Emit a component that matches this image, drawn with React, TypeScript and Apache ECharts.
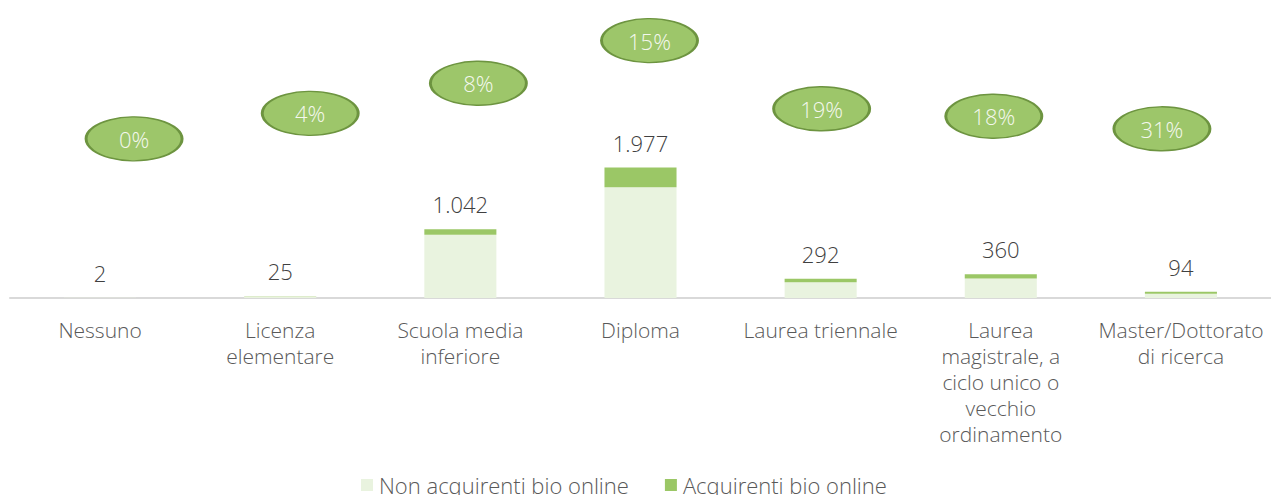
import React, { useEffect, useRef } from "react";
import * as echarts from "echarts";

const categories = [
  "Nessuno",
  "Licenza\nelementare",
  "Scuola media\ninferiore",
  "Diploma",
  "Laurea triennale",
  "Laurea\nmagistrale, a\nciclo unico o\nvecchio\nordinamento",
  "Master/Dottorato\ndi ricerca",
];
const totals = [2, 25, 1042, 1977, 292, 360, 94];
const buyers = [0, 1, 83, 297, 55, 65, 29];
const nonBuyers = [2, 24, 959, 1680, 237, 295, 65];
const buyerPct = [0, 4, 8, 15, 19, 18, 31];

// layout only: where each percentage bubble sits relative to its bar top (px)
const bubbleDx = [34, 30, 18, 9, 1, -7, -19];
const bubbleDy = [-159, -183, -146, -127, -170, -158, -163];

const FONT = "'Open Sans', sans-serif";
const fmt = (v: number) => String(v).replace(/\B(?=(\d{3})+(?!\d))/g, ".");

export default function App() {
  const ref = useRef<HTMLDivElement>(null);
  useEffect(() => {
    if (!ref.current) return;
    const chart = echarts.init(ref.current, undefined, { renderer: "svg" });
    chart.setOption({
      animation: false,
      textStyle: { fontFamily: FONT },
      grid: { left: 10, right: -3, top: 21, bottom: 197, containLabel: false },
      legend: {
        data: ["Non acquirenti bio online", "Acquirenti bio online"],
        left: 356,
        top: 469,
        itemWidth: 12,
        itemHeight: 12,
        itemGap: 36,
        icon: "rect",
        textStyle: { fontSize: 22, color: "#595959", fontFamily: FONT, fontWeight: 300, padding: [0, 0, 0, 1] },
      },
      xAxis: {
        type: "category",
        data: categories,
        axisLine: { lineStyle: { color: "#d9d9d9", width: 2 } },
        axisTick: { show: false },
        axisLabel: {
          interval: 0,
          margin: 19,
          fontSize: 21,
          lineHeight: 26,
          color: "#595959",
          fontFamily: FONT,
          fontWeight: 300,
        },
      },
      yAxis: {
        type: "value",
        min: 0,
        max: 4200,
        show: false,
        splitLine: { show: false },
      },
      series: [
        {
          name: "Non acquirenti bio online",
          type: "bar",
          stack: "tot",
          barWidth: "40%",
          data: nonBuyers,
          itemStyle: { color: "#e9f3df" },
        },
        {
          name: "Acquirenti bio online",
          type: "bar",
          stack: "tot",
          data: buyers,
          itemStyle: { color: "#9bc766" },
          label: {
            show: true,
            position: "top",
            distance: 14,
            fontSize: 22,
            color: "#404040",
            fontFamily: FONT,
            fontWeight: 300,
            formatter: (p: any) => fmt(totals[p.dataIndex]),
          },
        },
        {
          name: "bubbles",
          type: "scatter",
          clip: false,
          z: 5,
          symbol: "circle",
          symbolSize: [96, 44],
          itemStyle: { color: "#9dc66a", borderColor: "#6d9440", borderWidth: 2, opacity: 1 },
          data: totals.map((t, i) => ({
            value: t,
            symbolOffset: [bubbleDx[i], bubbleDy[i]],
          })),
          label: {
            show: true,
            position: "inside",
            fontSize: 22,
            color: "#f4f8ee",
            fontFamily: FONT,
            fontWeight: 300,
            formatter: (p: any) => buyerPct[p.dataIndex] + "%",
          },
          emphasis: { disabled: true },
        },
      ],
    });
    return () => chart.dispose();
  }, []);
  return (
    <div
      ref={ref}
      style={{ position: "fixed", left: 0, top: 0, width: 1271, height: 495, background: "#fff" }}
    />
  );
}
